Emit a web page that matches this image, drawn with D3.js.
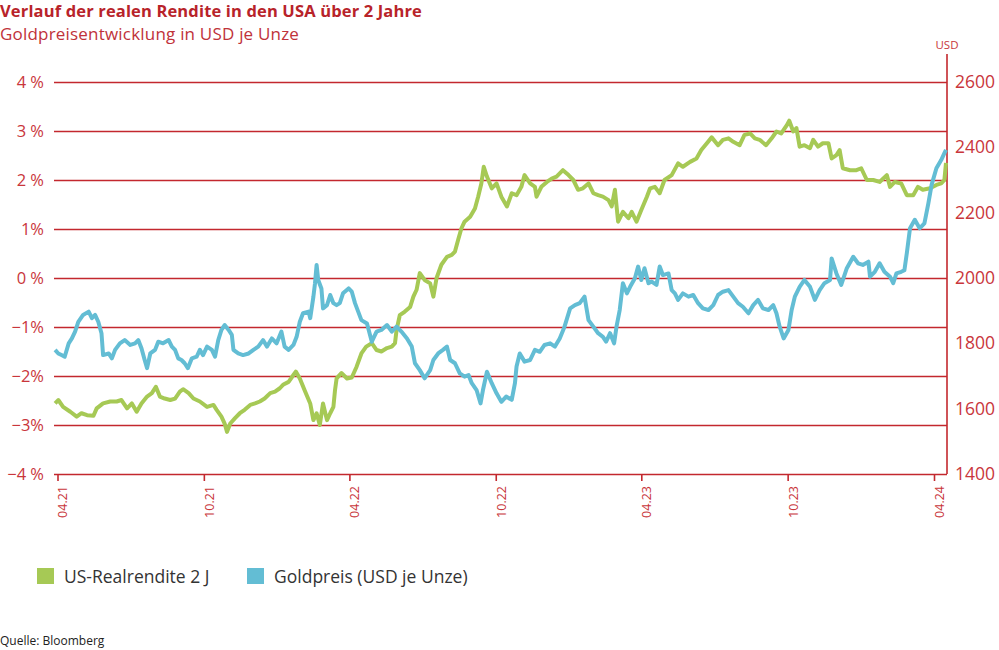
<!DOCTYPE html>
<html>
<head>
<meta charset="utf-8">
<script src="https://cdn.jsdelivr.net/npm/d3@7"></script>
<style>
  body { margin: 0; background: #fff; }
  svg { font-family: "Open Sans", sans-serif; }
</style>
</head>
<body>
<div id="chart"></div>
<script>
// US-Realrendite 2 J (in %)
var yieldDates = ["2021-03-29","2021-04-02","2021-04-08","2021-04-17","2021-04-25","2021-05-01","2021-05-08","2021-05-16","2021-05-20","2021-05-28",
  "2021-06-06","2021-06-14","2021-06-20","2021-06-27","2021-07-03","2021-07-09","2021-07-15","2021-07-22","2021-07-28","2021-08-02",
  "2021-08-07","2021-08-13","2021-08-20","2021-08-26","2021-09-01","2021-09-05","2021-09-12","2021-09-18","2021-09-26","2021-10-05",
  "2021-10-13","2021-10-17","2021-10-23","2021-10-27","2021-10-30","2021-11-03","2021-11-09","2021-11-15","2021-11-21","2021-11-28",
  "2021-12-04","2021-12-10","2021-12-16","2021-12-23","2021-12-29","2022-01-04","2022-01-08","2022-01-15","2022-01-21","2022-01-24",
  "2022-01-29","2022-02-04","2022-02-11","2022-02-15","2022-02-19","2022-02-23","2022-02-27","2022-03-04","2022-03-08","2022-03-12",
  "2022-03-14","2022-03-16","2022-03-22","2022-03-29","2022-04-04","2022-04-10","2022-04-16","2022-04-22","2022-04-29","2022-05-05",
  "2022-05-11","2022-05-18","2022-05-24","2022-05-28","2022-05-30","2022-06-03","2022-06-09","2022-06-16","2022-06-20","2022-06-24",
  "2022-06-28","2022-07-04","2022-07-11","2022-07-15","2022-07-19","2022-07-25","2022-08-01","2022-08-07","2022-08-11","2022-08-15",
  "2022-08-19","2022-08-23","2022-08-30","2022-09-05","2022-09-09","2022-09-13","2022-09-16","2022-09-20","2022-09-26","2022-10-02",
  "2022-10-08","2022-10-15","2022-10-21","2022-10-27","2022-11-02","2022-11-06","2022-11-13","2022-11-19","2022-11-21","2022-11-27",
  "2022-12-04","2022-12-10","2022-12-16","2022-12-24","2022-12-31","2023-01-06","2023-01-12","2023-01-18","2023-01-25","2023-01-31",
  "2023-02-06","2023-02-12","2023-02-19","2023-02-23","2023-02-27","2023-03-03","2023-03-09","2023-03-16","2023-03-20","2023-03-26",
  "2023-04-01","2023-04-08","2023-04-12","2023-04-18","2023-04-24","2023-04-30","2023-05-09","2023-05-17","2023-05-23","2023-06-01",
  "2023-06-09","2023-06-15","2023-06-22","2023-06-28","2023-07-06","2023-07-12","2023-07-19","2023-07-25","2023-08-02","2023-08-08",
  "2023-08-15","2023-08-21","2023-08-27","2023-09-04","2023-09-11","2023-09-17","2023-09-23","2023-09-30","2023-10-03","2023-10-08",
  "2023-10-12","2023-10-16","2023-10-22","2023-10-29","2023-11-02","2023-11-08","2023-11-14","2023-11-21","2023-11-25","2023-12-01",
  "2023-12-05","2023-12-09","2023-12-18","2023-12-26","2024-01-01","2024-01-08","2024-01-16","2024-01-24","2024-02-02","2024-02-06",
  "2024-02-12","2024-02-20","2024-02-27","2024-03-06","2024-03-12","2024-03-18","2024-03-27","2024-04-04","2024-04-10","2024-04-14","2024-04-16"];
var yieldValues = [-2.56,-2.49,-2.63,-2.73,-2.83,-2.76,-2.80,-2.81,-2.66,-2.56,
  -2.52,-2.52,-2.49,-2.66,-2.56,-2.73,-2.56,-2.42,-2.35,-2.22,
  -2.42,-2.46,-2.49,-2.46,-2.32,-2.27,-2.35,-2.46,-2.52,-2.63,
  -2.59,-2.69,-2.83,-2.97,-3.14,-2.97,-2.86,-2.76,-2.69,-2.59,
  -2.56,-2.52,-2.46,-2.35,-2.32,-2.25,-2.18,-2.12,-1.98,-1.91,
  -2.05,-2.29,-2.56,-2.90,-2.76,-3.00,-2.56,-2.90,-2.76,-2.63,
  -2.29,-2.05,-1.94,-2.05,-2.03,-1.81,-1.54,-1.40,-1.33,-1.47,
  -1.50,-1.43,-1.40,-1.33,-1.06,-0.76,-0.69,-0.59,-0.38,-0.24,
  0.10,-0.04,-0.11,-0.38,0.00,0.27,0.43,0.47,0.54,0.78,
  1.01,1.15,1.25,1.42,1.66,1.93,2.27,2.07,1.83,1.93,
  1.66,1.46,1.73,1.69,1.86,2.10,1.93,1.86,1.66,1.86,
  1.96,2.03,2.07,2.20,2.10,2.00,1.80,1.83,1.93,1.73,
  1.69,1.66,1.59,1.46,1.80,1.15,1.35,1.22,1.35,1.15,
  1.39,1.66,1.83,1.86,1.73,2.00,2.10,2.34,2.27,2.37,
  2.44,2.61,2.75,2.87,2.71,2.82,2.85,2.78,2.71,2.92,
  2.95,2.85,2.82,2.71,2.85,2.99,2.95,3.12,3.21,2.99,
  3.06,2.68,2.71,2.65,2.82,2.68,2.75,2.75,2.44,2.51,
  2.61,2.24,2.20,2.20,2.24,2.00,2.00,1.96,2.10,1.86,
  1.96,1.93,1.69,1.69,1.86,1.80,1.83,1.90,1.93,2.00,2.35];

// Goldpreis (USD je Unze)
var goldDates = ["2021-03-29","2021-04-02","2021-04-06","2021-04-10","2021-04-15","2021-04-19","2021-04-23","2021-04-27","2021-05-03","2021-05-10",
  "2021-05-14","2021-05-18","2021-05-22","2021-05-26","2021-05-28","2021-06-04","2021-06-08","2021-06-12","2021-06-18","2021-06-24",
  "2021-07-01","2021-07-07","2021-07-11","2021-07-15","2021-07-19","2021-07-22","2021-07-26","2021-08-01","2021-08-05","2021-08-11",
  "2021-08-18","2021-08-22","2021-08-26","2021-08-30","2021-09-03","2021-09-07","2021-09-11","2021-09-16","2021-09-22","2021-09-26",
  "2021-09-30","2021-10-05","2021-10-11","2021-10-15","2021-10-19","2021-10-23","2021-10-27","2021-11-01","2021-11-05","2021-11-07",
  "2021-11-13","2021-11-19","2021-11-26","2021-12-02","2021-12-08","2021-12-14","2021-12-19","2021-12-25","2021-12-31","2022-01-06",
  "2022-01-10","2022-01-15","2022-01-21","2022-01-25","2022-01-29","2022-02-02","2022-02-09","2022-02-11","2022-02-15","2022-02-17",
  "2022-02-19","2022-02-21","2022-02-25","2022-02-27","2022-03-04","2022-03-08","2022-03-12","2022-03-16","2022-03-20","2022-03-24",
  "2022-03-31","2022-04-04","2022-04-08","2022-04-12","2022-04-16","2022-04-23","2022-04-29","2022-05-05","2022-05-11","2022-05-18",
  "2022-05-24","2022-05-30","2022-06-05","2022-06-12","2022-06-18","2022-06-22","2022-06-28","2022-07-04","2022-07-11","2022-07-15",
  "2022-07-21","2022-07-27","2022-08-01","2022-08-05","2022-08-11","2022-08-17","2022-08-23","2022-08-28","2022-09-01","2022-09-07",
  "2022-09-12","2022-09-15","2022-09-20","2022-09-26","2022-10-02","2022-10-08","2022-10-14","2022-10-21","2022-10-25","2022-10-27",
  "2022-10-31","2022-11-06","2022-11-13","2022-11-19","2022-11-25","2022-12-01","2022-12-08","2022-12-14","2022-12-20","2022-12-26",
  "2023-01-02","2023-01-08","2023-01-14","2023-01-20","2023-01-25","2023-01-31","2023-02-06","2023-02-12","2023-02-16","2023-02-21",
  "2023-02-26","2023-03-01","2023-03-05","2023-03-09","2023-03-14","2023-03-18","2023-03-24","2023-03-28","2023-04-01","2023-04-05",
  "2023-04-10","2023-04-14","2023-04-20","2023-04-24","2023-04-28","2023-05-05","2023-05-09","2023-05-13","2023-05-17","2023-05-23",
  "2023-05-30","2023-06-05","2023-06-11","2023-06-17","2023-06-24","2023-06-30","2023-07-06","2023-07-12","2023-07-19","2023-07-25",
  "2023-07-31","2023-08-06","2023-08-13","2023-08-19","2023-08-25","2023-08-31","2023-09-07","2023-09-13","2023-09-17","2023-09-21",
  "2023-09-26","2023-10-02","2023-10-06","2023-10-10","2023-10-16","2023-10-22","2023-10-29","2023-11-04","2023-11-10","2023-11-16",
  "2023-11-23","2023-11-25","2023-12-01","2023-12-07","2023-12-14","2023-12-22","2023-12-28","2024-01-03","2024-01-10","2024-01-12",
  "2024-01-18","2024-01-24","2024-01-30","2024-02-06","2024-02-10","2024-02-14","2024-02-20","2024-02-24","2024-02-27","2024-03-02",
  "2024-03-08","2024-03-14","2024-03-20","2024-03-25","2024-03-29","2024-04-04","2024-04-10","2024-04-14","2024-04-16"];
var goldValues = [1780,1769,1764,1759,1800,1815,1836,1866,1887,1897,
  1877,1887,1866,1831,1764,1769,1754,1780,1800,1810,
  1795,1800,1810,1785,1749,1724,1769,1780,1805,1800,
  1810,1790,1780,1754,1749,1739,1724,1754,1759,1780,
  1764,1790,1780,1759,1810,1841,1856,1841,1826,1780,
  1769,1764,1769,1780,1790,1810,1790,1815,1800,1836,
  1790,1780,1795,1820,1866,1892,1897,1877,1943,1984,
  2040,1994,1968,1907,1917,1948,1923,1917,1923,1953,
  1968,1958,1923,1897,1871,1861,1805,1836,1841,1856,
  1836,1851,1836,1815,1790,1739,1718,1693,1718,1749,
  1769,1780,1790,1749,1739,1708,1698,1703,1678,1657,
  1616,1657,1713,1678,1647,1621,1637,1627,1678,1729,
  1769,1744,1749,1780,1774,1795,1800,1790,1815,1851,
  1907,1917,1923,1943,1871,1851,1831,1820,1805,1831,
  1800,1851,1902,1984,1953,1973,1999,2035,1994,2030,
  1984,1989,1979,2035,2009,2014,1963,1953,1933,1953,
  1943,1948,1923,1907,1902,1917,1948,1958,1963,1943,
  1923,1912,1892,1917,1933,1907,1902,1917,1892,1851,
  1815,1841,1902,1943,1973,1994,1973,1933,1963,1984,
  1994,2060,2014,1979,2030,2065,2045,2040,2050,2004,
  2019,2045,2019,2004,1984,2014,2019,2024,2076,2152,
  2178,2152,2167,2229,2285,2336,2361,2382,2392];

// axis ticks
var yieldTicks = [-4, -3, -2, -1, 0, 1, 2, 3, 4];
var yieldTickLabels = ["\u22124 %", "\u22123%", "\u22122%", "\u22121%", "0 %", "1%", "2 %", "3 %", "4 %"];
var goldTicks = [1400, 1600, 1800, 2000, 2200, 2400, 2600];
var dateTicks = ["2021-04-01", "2021-10-01", "2022-04-01", "2022-10-01", "2023-04-01", "2023-10-01", "2024-04-01"];
var dateTickLabels = ["04.21", "10.21", "04.22", "10.22", "04.23", "10.23", "04.24"];

var legendLabels = ["US-Realrendite 2 J", "Goldpreis (USD je Unze)"];

var red = "#c3282e",
    labelRed = "#c9363b",
    green = "#a6c955",
    blue = "#63bdd4";

var width = 999, height = 650;
var plot = {left: 54, right: 947, top: 82, bottom: 474};

var svg = d3.select("#chart").append("svg")
    .attr("width", width)
    .attr("height", height);

svg.append("rect").attr("width", width).attr("height", height).attr("fill", "#fff");

var parse = d3.utcParse("%Y-%m-%d");

// scales
var x = d3.scaleUtc()
    .domain([parse(dateTicks[0]), parse(dateTicks[dateTicks.length - 1])])
    .range([57.5, 934]);
var yLeft = d3.scaleLinear().domain([-4, 4]).range([plot.bottom, plot.top]);
var yRight = d3.scaleLinear().domain([1400, 2600]).range([plot.bottom, plot.top]);

// titles
svg.append("text")
    .attr("x", 0).attr("y", 17)
    .style("font-size", "16.5px").style("font-weight", "bold")
    .style("letter-spacing", "0.15px")
    .style("fill", "#b8232a")
    .text("Verlauf der realen Rendite in den USA über 2 Jahre");
svg.append("text")
    .attr("x", 0).attr("y", 40)
    .style("font-size", "17px")
    .style("letter-spacing", "0.2px")
    .style("fill", "#c0323a")
    .text("Goldpreisentwicklung in USD je Unze");

// left axis + gridlines
var leftAxis = d3.axisLeft(yLeft)
    .tickValues(yieldTicks)
    .tickSizeInner(-(plot.right - plot.left))
    .tickSizeOuter(0)
    .tickPadding(10)
    .tickFormat(function(d, i) { return yieldTickLabels[i]; });

var gl = svg.append("g")
    .attr("transform", "translate(" + plot.left + ",0)")
    .call(leftAxis);
gl.select(".domain").remove();
gl.selectAll(".tick line").attr("stroke", red).attr("stroke-width", 1.6);
gl.selectAll(".tick text")
    .style("font-size", "16.5px").style("font-family", "'Open Sans', sans-serif")
    .attr("fill", labelRed);

// right axis
var rightAxis = d3.axisRight(yRight)
    .tickValues(goldTicks)
    .tickSize(0)
    .tickPadding(8)
    .tickFormat(d3.format("d"));

var gr = svg.append("g")
    .attr("transform", "translate(" + plot.right + ",0)")
    .call(rightAxis);
gr.select(".domain").remove();
gr.selectAll(".tick text")
    .style("font-size", "17.5px").style("font-family", "'Open Sans', sans-serif")
    .attr("fill", labelRed);

svg.append("line")
    .attr("x1", plot.right).attr("x2", plot.right)
    .attr("y1", 54).attr("y2", plot.bottom)
    .attr("stroke", red).attr("stroke-width", 1.6);
svg.append("text")
    .attr("x", plot.right).attr("y", 49)
    .attr("text-anchor", "middle")
    .style("font-size", "11.5px")
    .style("fill", labelRed)
    .text("USD");

// bottom axis (dates)
var bottomAxis = d3.axisBottom(x)
    .tickValues(dateTicks.map(parse))
    .tickSize(7)
    .tickPadding(0)
    .tickFormat(function(d, i) { return dateTickLabels[i]; });

var gb = svg.append("g")
    .attr("transform", "translate(0," + plot.bottom + ")")
    .call(bottomAxis);
gb.select(".domain").remove();
gb.selectAll(".tick line").attr("stroke", red).attr("stroke-width", 1.6);
gb.selectAll(".tick text")
    .attr("transform", "translate(5,12) rotate(-90)")
    .attr("x", 0).attr("y", 0).attr("dy", "0.35em")
    .style("text-anchor", "end")
    .style("font-size", "12.5px").style("font-family", "'Open Sans', sans-serif")
    .attr("fill", labelRed);

// lines
var yieldData = yieldDates.map(function(d, i) { return {date: parse(d), value: yieldValues[i]}; });
var goldData = goldDates.map(function(d, i) { return {date: parse(d), value: goldValues[i]}; });

var yieldLine = d3.line()
    .x(function(d) { return x(d.date); })
    .y(function(d) { return yLeft(d.value); });
var goldLine = d3.line()
    .x(function(d) { return x(d.date); })
    .y(function(d) { return yRight(d.value); });

svg.append("path")
    .datum(yieldData)
    .attr("d", yieldLine)
    .attr("fill", "none")
    .attr("stroke", green)
    .attr("stroke-width", 4)
    .attr("stroke-linejoin", "round");

svg.append("path")
    .datum(goldData)
    .attr("d", goldLine)
    .attr("fill", "none")
    .attr("stroke", blue)
    .attr("stroke-width", 4)
    .attr("stroke-linejoin", "round");

// legend
var legend = svg.selectAll(".legend")
    .data(legendLabels)
  .enter().append("g")
    .attr("class", "legend")
    .attr("transform", function(d, i) { return "translate(" + (37 + i * 210) + ",568)"; });
legend.append("rect")
    .attr("width", 17).attr("height", 16)
    .attr("fill", function(d, i) { return i === 0 ? green : blue; });
legend.append("text")
    .attr("x", 27).attr("y", 14.5)
    .style("font-size", "17.5px")
    .style("fill", "#333")
    .text(function(d) { return d; });

// source
svg.append("text")
    .attr("x", 0).attr("y", 645)
    .style("font-size", "12px")
    .style("fill", "#222")
    .text("Quelle: Bloomberg");
</script>
</body>
</html>
